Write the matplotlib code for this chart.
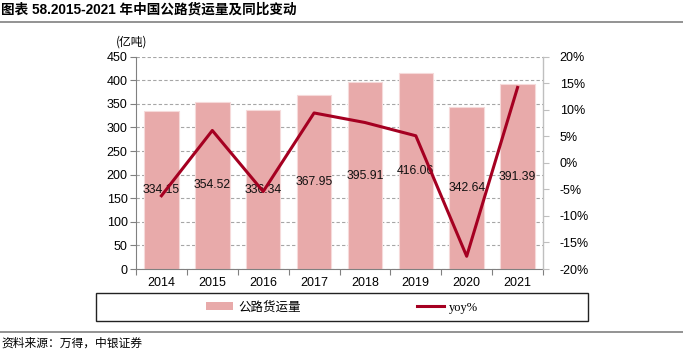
import matplotlib
matplotlib.use('Agg')
import matplotlib.pyplot as plt
import numpy as np
from matplotlib.lines import Line2D
from matplotlib.patches import Rectangle, Patch
from matplotlib.ticker import MultipleLocator, FuncFormatter

plt.rcParams['font.family'] = ['Liberation Sans', 'Noto Sans CJK SC', 'DejaVu Sans']

years = ['2014', '2015', '2016', '2017', '2018', '2019', '2020', '2021']
freight = [334.15, 354.52, 336.34, 367.95, 395.91, 416.06, 342.64, 391.39]
yoy = [-6.2, 6.1, -5.4, 9.4, 7.6, 5.1, -17.6, 14.2]

BAR = '#E8AAAA'
LINE = '#A50021'
W, H = 683, 355

fig = plt.figure(figsize=(W / 100, H / 100), dpi=100)
ax = fig.add_axes([136 / W, 1 - 269 / H, (543 - 136) / W, (269 - 56.7) / H])
ax2 = ax.twinx()

x = np.arange(len(years))
ax.bar(x, freight, width=0.68, color=BAR, edgecolor='#F6DADA', linewidth=0.8, zorder=2)
for xi, v in zip(x, freight):
    ax.text(xi, v / 2, f'{v:.2f}', ha='center', va='center', fontsize=8.8, color='#111111', zorder=5)

ax2.plot(x, yoy, color=LINE, linewidth=2.2, zorder=4)
ax.set_zorder(ax2.get_zorder() - 1)
ax.patch.set_visible(False)
ax2.patch.set_visible(False)

ax.set_xlim(-0.5, len(years) - 0.5)
ax.set_ylim(0, 450)
ax.yaxis.set_major_locator(MultipleLocator(50))
ax.grid(axis='y', linestyle=(0, (3, 2)), color='#A6A6A6', linewidth=0.8, zorder=0)
ax.set_xticks(x)
ax.set_xticklabels(years)
ax.set_xticks(np.arange(-0.5, len(years), 1), minor=True)
ax.tick_params(axis='x', which='major', length=0, labelsize=9, pad=6)
ax.tick_params(axis='x', which='minor', length=4, color='#808080', width=0.8)
ax.tick_params(axis='y', length=4, color='#808080', width=0.8, labelsize=9, pad=2)

ax2.set_ylim(-20, 20)
ax2.yaxis.set_major_locator(MultipleLocator(5))
ax2.yaxis.set_major_formatter(FuncFormatter(lambda v, p: f'{v:.0f}%'))
ax2.tick_params(axis='y', length=4, color='#BFBFBF', width=0.8, labelsize=9, pad=8)

for a in (ax, ax2):
    a.spines['top'].set_visible(False)
ax.spines['left'].set_color('#808080')
ax.spines['bottom'].set_color('#808080')
ax.spines['right'].set_visible(False)
ax2.spines['left'].set_visible(False)
ax2.spines['bottom'].set_visible(False)
ax2.spines['right'].set_color('#BFBFBF')
ax2.spines['right'].set_linewidth(1.0)

fig.text(132 / W, 1 - 42 / H, '(亿吨)', ha='center', va='center', fontsize=8.5,
         family=['Noto Sans CJK SC', 'DejaVu Sans'])

# title and rules
fig.text(1 / W, 1 - 10 / H, '图表 58.2015-2021 年中国公路货运量及同比变动', ha='left', va='center',
         fontsize=9.8, fontweight='bold')
fig.add_artist(Line2D([0, 1], [1 - 22 / H, 1 - 22 / H], color='#808080', linewidth=1.2))
fig.add_artist(Line2D([0, 1], [1 - 332 / H, 1 - 332 / H], color='#808080', linewidth=1.2))
fig.text(1 / W, 1 - 343 / H, '资料来源：万得，中银证券', ha='left', va='center', fontsize=8.5,
         family=['Noto Sans CJK SC', 'DejaVu Sans'], style='italic')

# legend box
fig.add_artist(Rectangle((96 / W, 1 - 321 / H), 492 / W, 28 / H, transform=fig.transFigure,
                         fill=False, edgecolor='#222222', linewidth=1.0))
handles = [Patch(facecolor=BAR, edgecolor='none'), Line2D([], [], color=LINE, linewidth=2.2)]
leg = fig.legend(handles, ['公路货运量', 'yoy%'], loc='center', ncol=2,
                 bbox_to_anchor=(342 / W, 1 - 307 / H), frameon=False, fontsize=9,
                 handlelength=2.2, handleheight=0.6, handletextpad=0.4, columnspacing=9.3)
leg.get_texts()[0].set_family(['Noto Sans CJK SC', 'DejaVu Sans'])
leg.get_texts()[1].set_family(['Liberation Serif', 'DejaVu Serif'])

fig.savefig('out.png', dpi=100)
